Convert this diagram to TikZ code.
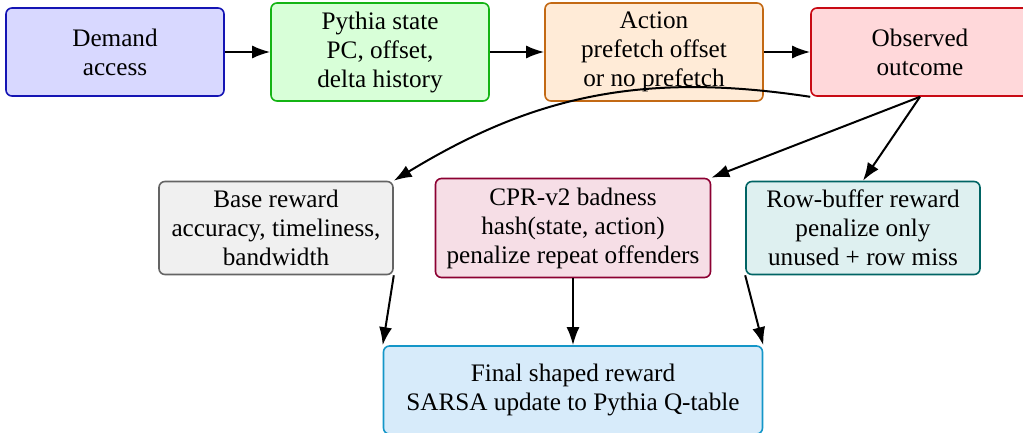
\documentclass[tikz,border=0pt]{standalone}
\usepackage{fontspec}
\setmainfont{Liberation Serif}
\usetikzlibrary{arrows.meta}

\definecolor{demandfill}{RGB}{216,216,255}
\definecolor{demanddraw}{RGB}{20,20,180}
\definecolor{statefill}{RGB}{216,255,216}
\definecolor{statedraw}{RGB}{20,180,20}
\definecolor{actionfill}{RGB}{255,235,215}
\definecolor{actiondraw}{RGB}{195,105,20}
\definecolor{outcomefill}{RGB}{255,216,218}
\definecolor{outcomedraw}{RGB}{200,10,20}
\definecolor{basefill}{RGB}{240,240,240}
\definecolor{basedraw}{RGB}{100,100,100}
\definecolor{cprfill}{RGB}{246,222,230}
\definecolor{cprdraw}{RGB}{140,0,50}
\definecolor{rowfill}{RGB}{222,240,240}
\definecolor{rowdraw}{RGB}{0,100,100}
\definecolor{finalfill}{RGB}{215,235,250}
\definecolor{finaldraw}{RGB}{20,150,200}

\tikzset{
  box/.style={draw, rounded corners=3pt, line width=0.8pt, align=center,
    inner sep=3pt, minimum width=109pt, minimum height=44pt,
    font=\fontsize{12.6}{14.5}\selectfont},
  flow/.style={-{Latex[length=9pt,width=6.5pt]}, line width=1pt}
}

\begin{document}
\begin{tikzpicture}[x=0.5pt, y=-0.5pt]
  \useasboundingbox (0,0) rectangle (1023,433);

  % top row
  \node[box, fill=demandfill, draw=demanddraw] (demand) at (115,52) {Demand\\access};
  \node[box, fill=statefill, draw=statedraw, minimum height=49pt] (state) at (380,52) {Pythia state\\PC, offset,\\delta history};
  \node[box, fill=actionfill, draw=actiondraw, minimum height=49pt] (action) at (654,52) {Action\\prefetch offset\\or no prefetch};
  \node[box, fill=outcomefill, draw=outcomedraw] (outcome) at (920,52) {Observed\\outcome};

  % reward terms
  \node[box, fill=basefill, draw=basedraw, minimum width=117pt, minimum height=46.5pt] (base) at (276,228) {Base reward\\accuracy, timeliness,\\bandwidth};
  \node[box, fill=cprfill, draw=cprdraw, minimum width=137.5pt, minimum height=49.5pt] (cpr) at (573,228) {CPR-v2 badness\\hash(state, action)\\penalize repeat offenders};
  \node[box, fill=rowfill, draw=rowdraw, minimum width=117pt, minimum height=46.5pt] (row) at (863,228) {Row-buffer reward\\penalize only\\unused + row miss};

  \node[box, fill=finalfill, draw=finaldraw, minimum width=189.5pt] (final) at (573,390) {Final shaped reward\\SARSA update to Pythia Q-table};

  \draw[flow] (demand) -- (state);
  \draw[flow] (state) -- (action);
  \draw[flow] (action) -- (outcome);

  \draw[flow] (outcome.south west) to[bend right=20] (base.north east);
  \draw[flow] (outcome.south) -- (cpr.north east);
  \draw[flow] (outcome.south) -- (row.north);

  \draw[flow] (base.south east) -- (final.north west);
  \draw[flow] (cpr) -- (final);
  \draw[flow] (row.south west) -- (final.north east);
\end{tikzpicture}
\end{document}
